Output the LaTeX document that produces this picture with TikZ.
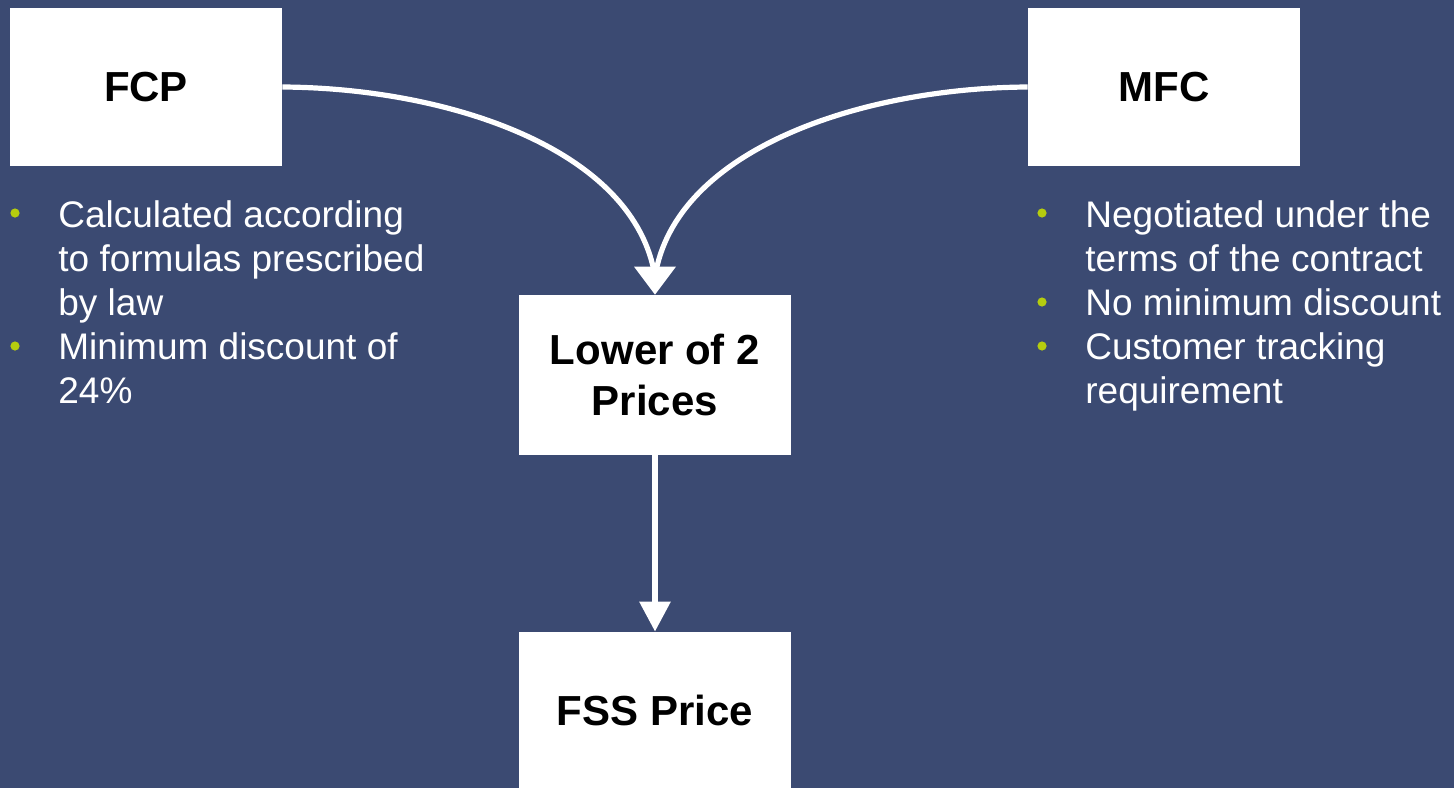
\documentclass[tikz,border=0pt]{standalone}
\usepackage{fontspec}
\setmainfont{Liberation Sans}
\usetikzlibrary{arrows.meta,calc}
\definecolor{bgblue}{RGB}{59,74,114}
\definecolor{bulgreen}{RGB}{181,204,14}
\tikzset{
  box/.style={draw=none, fill=white, minimum width=136pt, inner sep=0pt,
    font=\fontsize{21}{25.5}\selectfont\bfseries, align=center, text=black},
  arr/.style={draw=white, line width=2.6pt},
  line/.style={anchor=base west, inner sep=0pt, text=white, font=\fontsize{18.5}{22}\selectfont},
  dot/.style={circle, fill=bulgreen, inner sep=0pt, minimum size=4.6pt}
}
\begin{document}
\begin{tikzpicture}[x=0.5pt, y=-0.5pt]
\fill[bgblue] (0,0) rectangle (1454,788);
\useasboundingbox (0,0) rectangle (1454,788);

\node[box, minimum height=79pt] (fcp) at (146,87) {FCP};
\node[box, minimum height=79pt] (mfc) at (1164,87) {MFC};
\node[box, minimum height=80pt] (low) at (655,375) {Lower of 2\\Prices};
\node[box, minimum height=78pt] (fss) at (655,710) {FSS Price};

\coordinate (meet) at ($(low.north)+(0,-18)$);
\draw[arr] (fcp.east) .. controls (450,88) and (635,150) .. (meet);
\draw[arr] (mfc.west) .. controls (860,88) and (675,150) .. (meet);
\fill[white] ($(low.north)+(-21,-28)$) -- ($(low.north)+(21,-28)$) -- (low.north) -- cycle;
\draw[arr, line width=3pt, -{Triangle[length=15pt,width=15pt]}] (low.south) -- (fss.north);

% left bullets
\node[dot] (ld1) at (15,213) {};
\node[line] (l1) at (58,227) {Calculated according};
\node[line] (l2) at (58,271) {to formulas prescribed};
\node[line] (l3) at (58,315) {by law};
\node[dot] (ld2) at (15,346) {};
\node[line] (l4) at (58,359) {Minimum discount of};
\node[line] (l5) at (58,403) {24\%};

% right bullets
\node[dot] (rd1) at (1042,213) {};
\node[line] (r1) at (1085,227) {Negotiated under the};
\node[line] (r2) at (1085,271) {terms of the contract};
\node[dot] (rd2) at (1042,302) {};
\node[line] (r3) at (1085,315) {No minimum discount};
\node[dot] (rd3) at (1042,346) {};
\node[line] (r4) at (1085,359) {Customer tracking};
\node[line] (r5) at (1085,403) {requirement};
\end{tikzpicture}
\end{document}
